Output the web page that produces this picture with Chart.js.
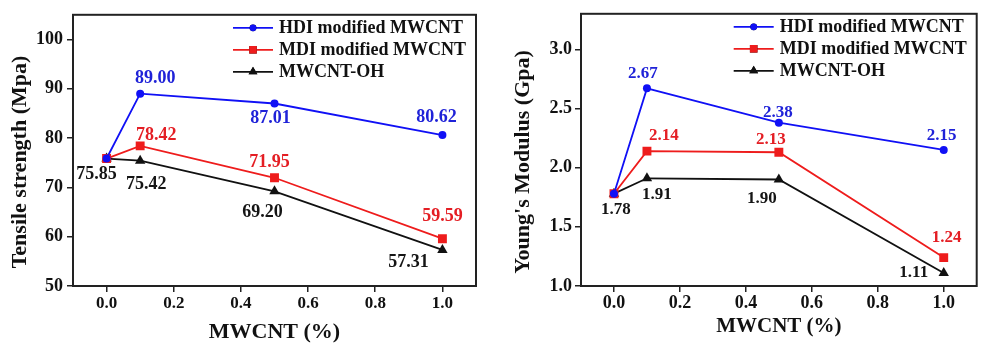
<!DOCTYPE html>
<html>
<head>
<meta charset="utf-8">
<script src="https://cdn.jsdelivr.net/npm/chart.js@4.4.1/dist/chart.umd.min.js"></script>
<style>
  html, body { margin: 0; padding: 0; background: #fff; }
  #wrap { position: relative; width: 983px; height: 343px; }
  .box { position: absolute; top: 0; height: 343px; }
  #left { left: 0; width: 490px; }
  #right { left: 490px; width: 493px; }
</style>
</head>
<body>
<div id="wrap">
  <div class="box" id="left"><canvas id="tensileChart"></canvas></div>
  <div class="box" id="right"><canvas id="modulusChart"></canvas></div>
</div>
<script>
// MWCNT content (%)
const mwcnt = [0, 0.1, 0.5, 1.0];
const seriesNames = ['HDI modified MWCNT', 'MDI modified MWCNT', 'MWCNT-OH'];

// Tensile strength (Mpa)
const tensileHDI = [75.85, 89.00, 87.01, 80.62];
const tensileMDI = [75.85, 78.42, 71.95, 59.59];
const tensileOH  = [75.85, 75.42, 69.20, 57.31];

// Young's modulus (Gpa)
const modulusHDI = [1.78, 2.67, 2.38, 2.15];
const modulusMDI = [1.78, 2.14, 2.13, 1.24];
const modulusOH  = [1.78, 1.91, 1.90, 1.11];

// tick labels
const xTicks = [0, 0.2, 0.4, 0.6, 0.8, 1.0];
const tensileTicks = [50, 60, 70, 80, 90, 100];
const modulusTicks = [1.0, 1.5, 2.0, 2.5, 3.0];

// where each value label sits relative to its point (null = no label)
const tensileLabelPos = [
  [null, [15, -15], [-4, 15], [-6, -18]],
  [null, [16, -11], [-5, -15], [0, -22]],
  [[-10, 16], [6, 24], [-12, 21], [-34, 12]]
];
const modulusLabelPos = [
  [null, [-4, -15], [-1, -10], [-2, -14]],
  [null, [17, -15], [-8, -13], [3, -20]],
  [[2, 16], [10, 16], [-17, 19], [-30, 0]]
];

const lineColors = ['#1010f5', '#ee1c1c', '#111111'];
const textColors = ['#1f22d8', '#e41e24', '#151515'];
const markers = ['circle', 'rect', 'triangle'];
const markerSize = [4, 6.3, 6];
const FONT = '"Liberation Serif", "DejaVu Serif", serif';

function makeDatasets(series) {
  return series.map((vals, i) => ({
    label: seriesNames[i],
    data: mwcnt.map((x, j) => ({ x: x, y: vals[j] })),
    borderColor: lineColors[i],
    backgroundColor: lineColors[i],
    borderWidth: 1.8,
    pointStyle: markers[i],
    pointRadius: markerSize[i],
    pointBorderWidth: 0,
    tension: 0
  }));
}

// frame around the plot area
const frame = {
  id: 'frame',
  afterDraw(chart) {
    const { ctx, chartArea: a } = chart;
    ctx.save();
    ctx.strokeStyle = '#222';
    ctx.lineWidth = 2;
    ctx.strokeRect(a.left, a.top, a.right - a.left, a.bottom - a.top);
    ctx.restore();
  }
};

// value labels next to points
const valueLabels = {
  id: 'valueLabels',
  afterDatasetsDraw(chart, args, opts) {
    const ctx = chart.ctx;
    ctx.save();
    ctx.font = 'bold ' + opts.size + 'px ' + FONT;
    ctx.textAlign = 'center';
    ctx.textBaseline = 'middle';
    chart.data.datasets.forEach((ds, i) => {
      const meta = chart.getDatasetMeta(i);
      meta.data.forEach((pt, j) => {
        const pos = opts.pos[i][j];
        if (!pos) return;
        ctx.fillStyle = textColors[i];
        ctx.fillText(ds.data[j].y.toFixed(2), pt.x + pos[0], pt.y + pos[1]);
      });
    });
    ctx.restore();
  }
};

// legend inside top-right corner
const innerLegend = {
  id: 'innerLegend',
  afterDraw(chart) {
    const { ctx, chartArea: a } = chart;
    ctx.save();
    chart.data.datasets.forEach((ds, i) => {
      const y = a.top + 13 + i * 22;
      const x0 = a.right - 243, x1 = a.right - 203;
      ctx.strokeStyle = ds.borderColor;
      ctx.lineWidth = 1.8;
      ctx.beginPath();
      ctx.moveTo(x0, y);
      ctx.lineTo(x1, y);
      ctx.stroke();
      Chart.helpers.drawPoint(ctx, {
        pointStyle: ds.pointStyle, radius: ds.pointRadius * 0.85, borderWidth: 0
      }, (x0 + x1) / 2, y);
      ctx.fillStyle = ds.backgroundColor;
      ctx.fill();
      ctx.fillStyle = '#111';
      ctx.font = 'bold 18px ' + FONT;
      ctx.textAlign = 'left';
      ctx.textBaseline = 'middle';
      ctx.fillText(ds.label, a.right - 197, y + 1);
    });
    ctx.restore();
  }
};

// rotated y title
const yTitle = {
  id: 'yTitle',
  afterDraw(chart, args, opts) {
    const ctx = chart.ctx;
    ctx.save();
    ctx.translate(opts.x, opts.y);
    ctx.rotate(-Math.PI / 2);
    ctx.font = 'bold 22px ' + FONT;
    ctx.fillStyle = '#111';
    ctx.textAlign = 'center';
    ctx.textBaseline = 'middle';
    ctx.fillText(opts.text, 0, 0);
    ctx.restore();
  }
};

function makeChart(id, series, cfg) {
  return new Chart(document.getElementById(id), {
    type: 'line',
    data: { datasets: makeDatasets(series) },
    plugins: [frame, valueLabels, innerLegend, yTitle],
    options: {
      responsive: true,
      maintainAspectRatio: false,
      animation: false,
      events: [],
      layout: { padding: { top: 11, right: cfg.padRight, left: 0, bottom: 0 } },
      plugins: {
        legend: { display: false },
        tooltip: { enabled: false },
        valueLabels: { pos: cfg.labelPos, size: cfg.labelSize },
        yTitle: { text: cfg.yTitle, x: cfg.yTitleX, y: 162 }
      },
      scales: {
        x: {
          type: 'linear',
          min: -0.1,
          max: 1.1,
          afterBuildTicks: s => { s.ticks = xTicks.map(v => ({ value: v })); },
          afterFit: s => { s.height = 57; },
          border: { display: false },
          grid: { display: true, drawOnChartArea: false, drawTicks: true, tickLength: 6, color: '#222', lineWidth: 1.5 },
          ticks: {
            padding: 1,
            color: '#111',
            font: { family: FONT, size: cfg.xTickSize, weight: 'bold' },
            callback: v => v.toFixed(1)
          },
          title: {
            display: true,
            text: 'MWCNT (%)',
            color: '#111',
            font: { family: FONT, size: cfg.xTitleSize, weight: 'bold', lineHeight: 1 },
            padding: { top: 0, bottom: cfg.xTitlePad }
          }
        },
        y: {
          min: cfg.yMin,
          max: cfg.yMax,
          afterBuildTicks: s => { s.ticks = cfg.yTicks.map(v => ({ value: v })); },
          afterFit: s => { s.width = cfg.yWidth; },
          border: { display: false },
          grid: { display: true, drawOnChartArea: false, drawTicks: true, tickLength: 6, color: '#222', lineWidth: 1.5 },
          ticks: {
            padding: cfg.yTickPad,
            color: '#111',
            font: { family: FONT, size: 18, weight: 'bold' },
            callback: cfg.yFmt
          }
        }
      }
    }
  });
}

makeChart('tensileChart', [tensileHDI, tensileMDI, tensileOH], {
  padRight: 14, yWidth: 73, yMin: 50, yMax: 105, yTicks: tensileTicks,
  yFmt: v => String(v), yTickPad: 4, labelPos: tensileLabelPos, labelSize: 18,
  yTitle: 'Tensile strength (Mpa)', yTitleX: 20,
  xTickSize: 17, xTitleSize: 22, xTitlePad: 0
});

makeChart('modulusChart', [modulusHDI, modulusMDI, modulusOH], {
  padRight: 1, yWidth: 91, yMin: 1.0, yMax: 3.3, yTicks: modulusTicks,
  yFmt: v => v.toFixed(1), yTickPad: 3, labelPos: modulusLabelPos, labelSize: 17,
  yTitle: "Young's Modulus (Gpa)", yTitleX: 33,
  xTickSize: 18, xTitleSize: 21, xTitlePad: 6
});
</script>
</body>
</html>
